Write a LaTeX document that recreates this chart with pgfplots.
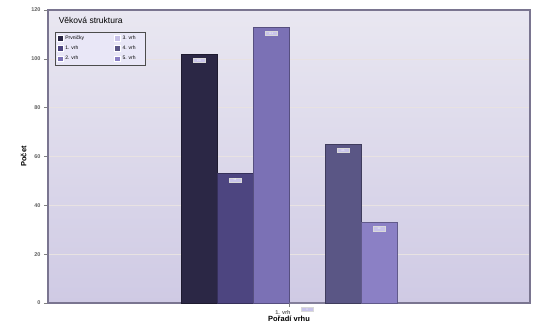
\documentclass[border=0pt]{standalone}
\usepackage{fontspec}
\setmainfont{Liberation Sans}
\usepackage{pgfplots}
\pgfplotsset{compat=1.18}
\definecolor{cA}{HTML}{2B2745}
\definecolor{cB}{HTML}{4D4580}
\definecolor{cC}{HTML}{7B71B5}
\definecolor{cD}{HTML}{C5BFE6}
\definecolor{cE}{HTML}{5A5685}
\definecolor{cF}{HTML}{8B80C5}
\definecolor{bgtop}{HTML}{E9E7F1}
\definecolor{bgbot}{HTML}{CFCAE4}
\definecolor{frame}{HTML}{7A7590}
\definecolor{lbl}{HTML}{C9C4EA}
\begin{document}
\begin{tikzpicture}
\begin{axis}[
  name=ax,
  scale only axis,
  width=482pt, height=293pt,
  ybar=0pt, bar width=36pt,
  xmin=0, xmax=2, ymin=0, ymax=120,
  xtick={1}, xticklabels={1. vrh},
  ytick={0,20,40,60,80,100,120},
  tick label style={font=\fontsize{5.5}{6}\selectfont\bfseries, text=gray!75!black},
  xticklabel style={xshift=-6pt},
  /pgf/number format/assume math mode=true,
  tick align=outside, tick pos=left,
  major tick length=4pt,
  every tick/.style={gray, semithick},
  ymajorgrids, grid style={white!80!gray!90!pink, line width=0.6pt},
  axis background/.style={shade, top color=bgtop, bottom color=bgbot},
  axis line style={frame},
  every outer x axis line/.append style={line width=1.2pt},
  every outer y axis line/.append style={line width=1.2pt},
  xlabel={\textbf{Pořadí vrhu}}, ylabel={\textbf{Počet}},
  label style={font=\fontsize{7.5}{8}\selectfont},
  xlabel style={yshift=5pt},
  ylabel style={yshift=-2pt},
  nodes near coords={\fontsize{2.5}{3}\selectfont\pgfmathprintnumber{\pgfplotspointmeta}},
  every node near coord/.append style={anchor=north, fill=lbl, draw=white!70!gray, inner sep=1.2pt, minimum width=12pt, yshift=-4pt, text=white},
  legend style={at={(rel axis cs:0.015,0.925)}, anchor=north west, draw=black!70, fill=white!60!lbl,
     font=\fontsize{5}{6}\selectfont, inner sep=1.5pt, row sep=1.2pt,
     /tikz/every even column/.append style={column sep=28pt}},
  legend columns=3, transpose legend,
  legend cell align=left,
  legend image code/.code={\draw[#1,draw=white] (0pt,-2.5pt) rectangle (6pt,3pt);},
  clip=false,
]
\addplot[fill=cA, draw=cA!70!black] coordinates {(1,102)};
\addplot[fill=cB, draw=cB!70!black] coordinates {(1,53)};
\addplot[fill=cC, draw=cC!70!black] coordinates {(1,113)};
\addplot[fill=cD, draw=cD!70!black] coordinates {(1,0)};
\addplot[fill=cE, draw=cE!70!black] coordinates {(1,65)};
\addplot[fill=cF, draw=cF!70!black] coordinates {(1,33)};
\legend{Prvničky,1. vrh,2. vrh,3. vrh,4. vrh,5. vrh\hspace*{6pt}}
\node[anchor=north west, font=\fontsize{8.5}{9}\selectfont, inner sep=0pt] at (rel axis cs:0.022,0.975) {Věková struktura};
\end{axis}
\path ([shift={(-48pt,-28pt)}]ax.south west) rectangle ([shift={(11pt,10pt)}]ax.north east);
\end{tikzpicture}
\end{document}
